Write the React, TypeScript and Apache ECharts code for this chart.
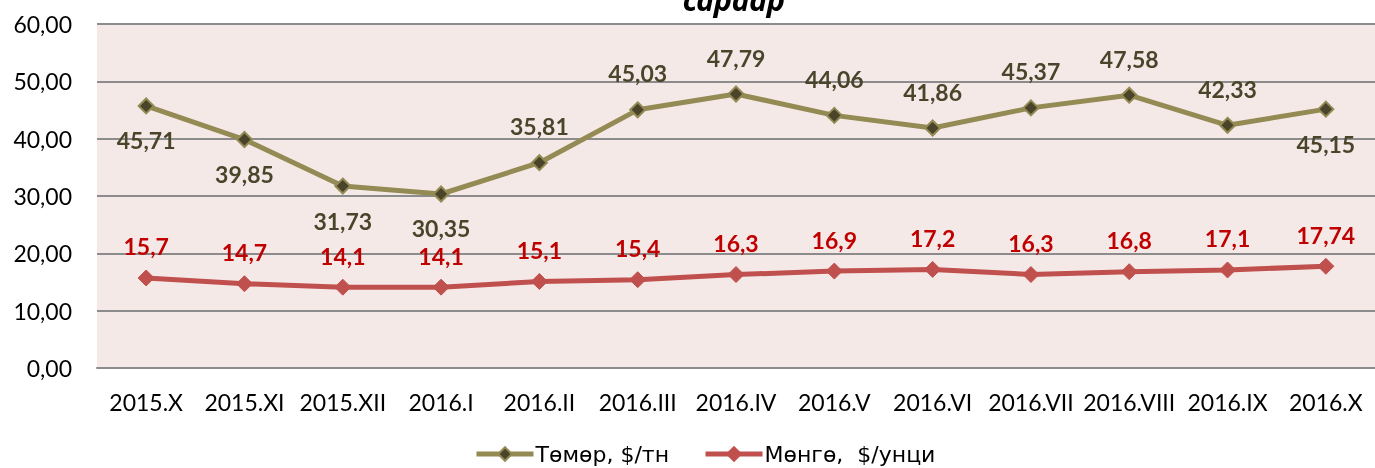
import React, { useEffect, useRef } from "react";
import * as echarts from "echarts";

const categories = [
  "2015.X", "2015.XI", "2015.XII", "2016.I", "2016.II", "2016.III", "2016.IV",
  "2016.V", "2016.VI", "2016.VII", "2016.VIII", "2016.IX", "2016.X",
];
const ironValues = [45.71, 39.85, 31.73, 30.35, 35.81, 45.03, 47.79, 44.06, 41.86, 45.37, 47.58, 42.33, 45.15];
const silverValues = [15.7, 14.7, 14.1, 14.1, 15.1, 15.4, 16.3, 16.9, 17.2, 16.3, 16.8, 17.1, 17.74];
const ironLabelBelow = [true, true, true, true, false, false, false, false, false, false, false, false, true];
const ironName = "Төмөр, $/тн";
const silverName = "Мөнгө,  $/унци";
const titleTail = "сараар";

const FONT = "Lato, 'Noto Sans', sans-serif";
const CYR = "'Noto Sans', sans-serif";
const LEG = "'DejaVu Sans', sans-serif";

export default function App() {
  const ref = useRef<HTMLDivElement>(null);
  useEffect(() => {
    if (!ref.current) return;
    const chart = echarts.init(ref.current, null, { renderer: "svg" });
    const ironData = ironValues.map((v, i) => ({
      value: v,
      label: {
        position: ironLabelBelow[i] ? "bottom" : "top",
        distance: ironLabelBelow[i] ? 16 : 18,
      },
    }));
    chart.setOption({
      animation: false,
      textStyle: { fontFamily: FONT },
      graphic: [
        {
          type: "text",
          left: 683,
          top: -16,
          style: {
            text: titleTail,
            font: `italic bold 30px ${CYR}`,
            fill: "#000",
          },
        },
      ],
      grid: {
        left: 97,
        right: -8,
        top: 24,
        bottom: 100,
        show: true,
        backgroundColor: "#f5e9e8",
        borderWidth: 0,
      },
      legend: {
        top: 438,
        left: 469,
        itemWidth: 57,
        itemHeight: 17,
        itemGap: 34,
        lineStyle: { width: 5 },
        textStyle: { fontSize: 22, color: "#000", fontFamily: LEG, padding: [0, 0, 0, -3] },
        data: [ironName, silverName],
      },
      xAxis: {
        type: "category",
        data: categories,
        boundaryGap: true,
        axisLine: { show: true, lineStyle: { color: "#8c8c8c", width: 2 } },
        axisTick: { show: false },
        axisLabel: { color: "#000", fontSize: 23, margin: 22, fontFamily: FONT, interval: 0 },
      },
      yAxis: {
        type: "value",
        min: 0,
        max: 60,
        interval: 10,
        axisLine: { show: false },
        axisTick: { show: false },
        axisLabel: {
          color: "#000",
          fontSize: 23,
          margin: 25,
          fontFamily: FONT,
          formatter: (v: number) => v.toFixed(2).replace(".", ","),
        },
        splitLine: { lineStyle: { color: "#8c8c8c", width: 2 } },
      },
      series: [
        {
          name: ironName,
          type: "line",
          data: ironData,
          symbol: "diamond",
          symbolSize: 15,
          lineStyle: { color: "#948a54", width: 5 },
          itemStyle: { color: "#4a452a", borderColor: "#948a54", borderWidth: 2 },
          label: {
            show: true,
            color: "#4a452a",
            fontSize: 23,
            lineHeight: 20,
            fontWeight: "bold",
            fontFamily: FONT,
            formatter: (p: any) => Number(p.value).toFixed(2).replace(".", ","),
          },
          z: 3,
        },
        {
          name: silverName,
          type: "line",
          data: silverValues,
          symbol: "diamond",
          symbolSize: 16,
          lineStyle: { color: "#c0504d", width: 5 },
          itemStyle: { color: "#c0504d", borderColor: "#c0504d", borderWidth: 1 },
          label: {
            show: true,
            position: "top",
            distance: 13,
            color: "#c00000",
            fontSize: 23,
            lineHeight: 20,
            fontWeight: "bold",
            fontFamily: FONT,
            formatter: (p: any) => String(p.value).replace(".", ","),
          },
          z: 3,
        },
      ],
    });
    return () => chart.dispose();
  }, []);
  return (
    <div
      ref={ref}
      style={{ position: "fixed", left: 0, top: 0, width: 1375, height: 468 }}
    />
  );
}
